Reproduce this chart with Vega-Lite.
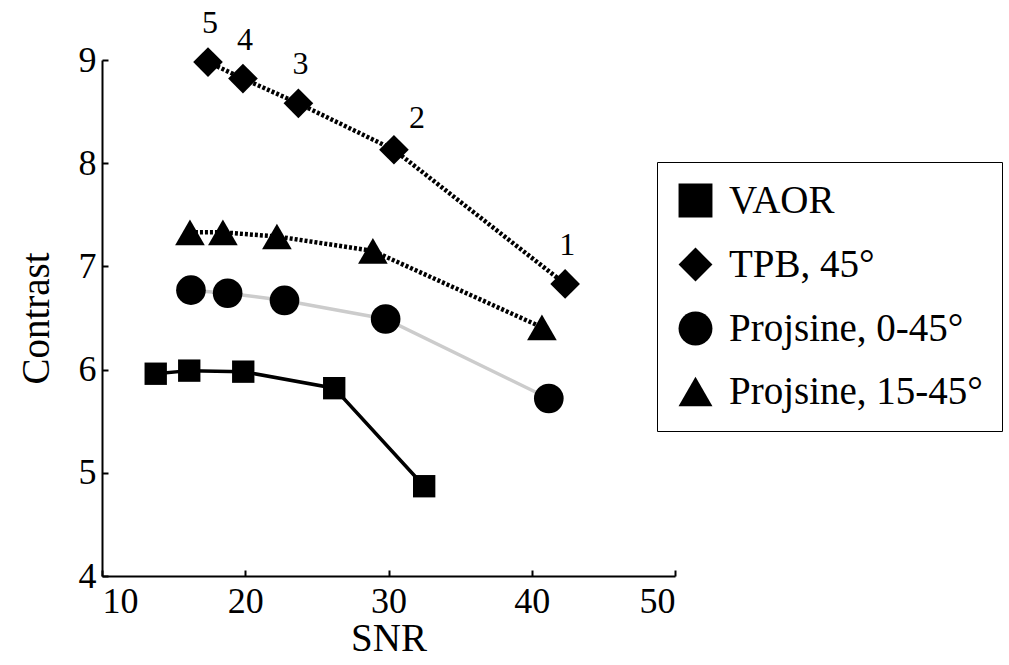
{
  "$schema": "https://vega.github.io/schema/vega-lite/v6.json",
  "width": 573,
  "height": 516,
  "autosize": {"type": "none"},
  "padding": {"left": 102, "top": 60, "right": 334, "bottom": 89},
  "background": "white",
  "config": {
    "view": {"stroke": null},
    "font": "Liberation Serif",
    "axis": {
      "grid": false,
      "domainColor": "black",
      "domainWidth": 2,
      "tickColor": "black",
      "tickWidth": 2,
      "tickSize": -6,
      "labelFont": "Liberation Serif",
      "labelFontSize": 36,
      "labelColor": "black",
      "titleFont": "Liberation Serif",
      "titleFontSize": 39,
      "titleFontWeight": "normal",
      "titleColor": "black"
    },
    "legend": {
      "labelFont": "Liberation Serif",
      "labelFontSize": 39,
      "labelColor": "black"
    }
  },
  "data": {
    "values": [
      {"series": "VAOR", "snr": 13.75, "contrast": 5.96},
      {"series": "VAOR", "snr": 16.09, "contrast": 5.99},
      {"series": "VAOR", "snr": 19.86, "contrast": 5.98},
      {"series": "VAOR", "snr": 26.21, "contrast": 5.82},
      {"series": "VAOR", "snr": 32.49, "contrast": 4.87},
      {"series": "TPB, 45°", "snr": 17.40, "contrast": 8.98, "label": "5"},
      {"series": "TPB, 45°", "snr": 19.84, "contrast": 8.82, "label": "4"},
      {"series": "TPB, 45°", "snr": 23.71, "contrast": 8.58, "label": "3"},
      {"series": "TPB, 45°", "snr": 30.38, "contrast": 8.13, "label": "2"},
      {"series": "TPB, 45°", "snr": 42.33, "contrast": 6.83, "label": "1"},
      {"series": "Projsine, 0-45°", "snr": 16.21, "contrast": 6.77},
      {"series": "Projsine, 0-45°", "snr": 18.77, "contrast": 6.74},
      {"series": "Projsine, 0-45°", "snr": 22.74, "contrast": 6.67},
      {"series": "Projsine, 0-45°", "snr": 29.80, "contrast": 6.49},
      {"series": "Projsine, 0-45°", "snr": 41.19, "contrast": 5.72},
      {"series": "Projsine, 15-45°", "snr": 16.14, "contrast": 7.33},
      {"series": "Projsine, 15-45°", "snr": 18.44, "contrast": 7.33},
      {"series": "Projsine, 15-45°", "snr": 22.21, "contrast": 7.29},
      {"series": "Projsine, 15-45°", "snr": 28.91, "contrast": 7.15},
      {"series": "Projsine, 15-45°", "snr": 40.71, "contrast": 6.41}
    ]
  },
  "encoding": {
    "x": {
      "field": "snr", "type": "quantitative", "title": "SNR",
      "scale": {"domain": [10, 50], "nice": false, "zero": false},
      "axis": {"values": [10, 20, 30, 40, 50], "labelPadding": 14, "titlePadding": 0}
    },
    "y": {
      "field": "contrast", "type": "quantitative", "title": "Contrast",
      "scale": {"domain": [4, 9], "nice": false, "zero": false},
      "axis": {"values": [4, 5, 6, 7, 8, 9], "labelPadding": 12, "titlePadding": 22}
    }
  },
  "layer": [
    {
      "transform": [{"filter": "datum.series == 'VAOR'"}],
      "mark": {"type": "line", "strokeWidth": 3.5, "color": "#000000"},
      "encoding": {}
    },
    {
      "transform": [{"filter": "datum.series == 'Projsine, 0-45°'"}],
      "mark": {"type": "line", "strokeWidth": 3.5, "color": "#cccccc"},
      "encoding": {}
    },
    {
      "transform": [{"filter": "datum.series == 'TPB, 45°' || datum.series == 'Projsine, 15-45°'"}],
      "mark": {"type": "line", "strokeWidth": 4.5, "strokeDash": [3, 2], "color": "#000000"},
      "encoding": {
        "detail": {"field": "series"}
      }
    },
    {
      "transform": [{"filter": "datum.series == 'VAOR'"}],
      "mark": {"type": "point", "filled": true, "color": "black", "opacity": 1, "size": 500},
      "encoding": {
        "shape": {
          "field": "series", "type": "nominal", "title": null,
          "scale": {
            "domain": ["VAOR", "TPB, 45°", "Projsine, 0-45°", "Projsine, 15-45°"],
            "range": ["square", "diamond", "circle", "triangle-up"]
          },
          "legend": {
            "orient": "none",
            "legendX": 555,
            "legendY": 102,
            "strokeColor": "black",
            "fillColor": "white",
            "padding": 19,
            "symbolSize": 1150,
            "symbolFillColor": "black",
            "symbolStrokeColor": "black",
            "symbolOpacity": 1,
            "rowPadding": 23,
            "labelOffset": 14,
            "labelLimit": 400,
            "encode": {"legend": {"update": {"strokeWidth": {"value": 3}}}}
          }
        }
      }
    },
    {
      "transform": [{"filter": "datum.series != 'VAOR'"}],
      "mark": {"type": "point", "filled": true, "color": "black", "opacity": 1, "size": 880},
      "encoding": {
        "shape": {
          "field": "series", "type": "nominal", "title": null, "legend": null,
          "scale": {
            "domain": ["VAOR", "TPB, 45°", "Projsine, 0-45°", "Projsine, 15-45°"],
            "range": ["square", "diamond", "circle", "triangle-up"]
          }
        }
      }
    },
    {
      "transform": [{"filter": "datum.label != null && datum.label != '2'"}],
      "mark": {"type": "text", "dy": -39, "dx": 2, "fontSize": 32, "font": "Liberation Serif", "color": "black"},
      "encoding": {"text": {"field": "label"}}
    },
    {
      "transform": [{"filter": "datum.label == '2'"}],
      "mark": {"type": "text", "dy": -32, "dx": 23, "fontSize": 32, "font": "Liberation Serif", "color": "black"},
      "encoding": {"text": {"field": "label"}}
    }
  ]
}
